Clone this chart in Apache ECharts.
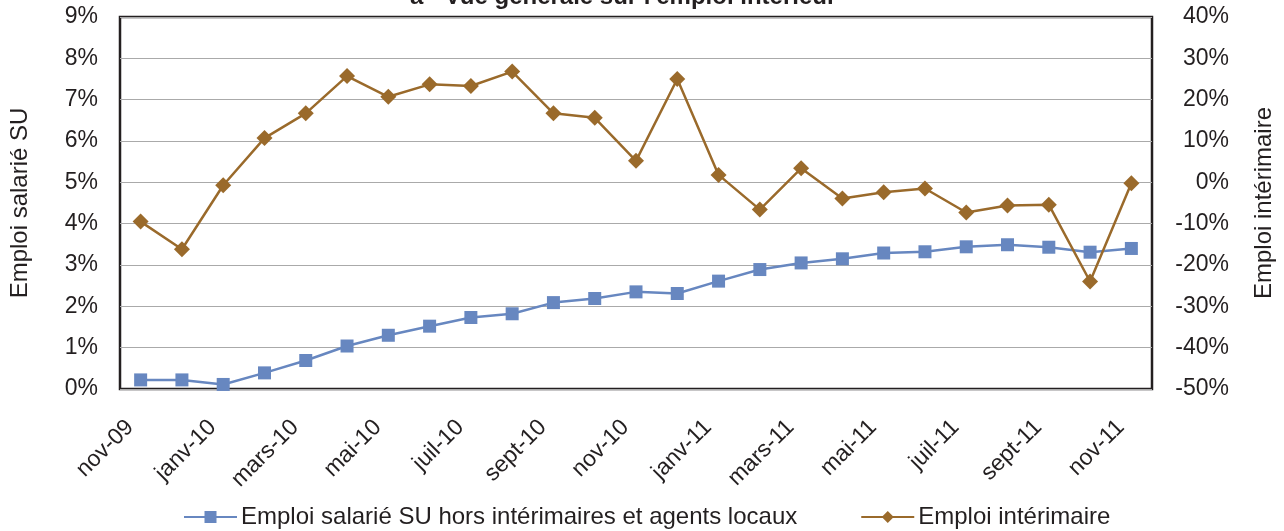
<!DOCTYPE html>
<html><head><meta charset="utf-8">
<script src="https://cdn.jsdelivr.net/npm/echarts@6/dist/echarts.min.js"></script>
<style>html,body{margin:0;padding:0;background:#fff}#c{width:1284px;height:531px}</style>
</head><body><div id="c"></div>
<script>
const categories = ["nov-09","déc-09","janv-10","févr-10","mars-10","avr-10","mai-10","juin-10","juil-10","août-10","sept-10","oct-10","nov-10","déc-10","janv-11","févr-11","mars-11","avr-11","mai-11","juin-11","juil-11","août-11","sept-11","oct-11","nov-11"];
const emploiSU = [0.22,0.22,0.11,0.39,0.69,1.04,1.30,1.52,1.73,1.82,2.09,2.19,2.35,2.31,2.61,2.89,3.05,3.15,3.29,3.32,3.44,3.49,3.43,3.31,3.40];
const emploiInterim = [-9.5,-16.2,-0.7,10.7,16.7,25.7,20.7,23.7,23.3,26.8,16.7,15.6,5.2,25.0,1.8,-6.6,3.4,-3.9,-2.4,-1.5,-7.3,-5.6,-5.4,-24.0,-0.2];
const seriesNames = ["Emploi salarié SU hors intérimaires et agents locaux","Emploi intérimaire"];
const titleText = "a - Vue générale sur l'emploi intérieur";
const leftName = "Emploi salarié SU";
const rightName = "Emploi intérimaire";

const blue = '#6787C0', brown = '#9A6A2B', txt = '#231f20';
const font = 'Liberation Sans, Arial, sans-serif';
const chart = echarts.init(document.getElementById('c'));
chart.setOption({
  backgroundColor: '#fff',
  animation: false,
  title: { text: titleText, left: 410, top: -15, padding: 0, textStyle: { fontFamily: font, fontSize: 24, fontWeight: 'bold', color: txt } },
  legend: {
    left: 178, top: 500, itemWidth: 53, itemHeight: 15, itemGap: 63,
    textStyle: { fontFamily: font, fontSize: 24, color: txt, padding: [0,0,0,-1] },
    data: seriesNames
  },
  grid: { left: 117, right: 130, top: 17, bottom: 142, show: true, borderColor: '#231f20', borderWidth: 2.5, containLabel: false },
  xAxis: {
    type: 'category', data: categories, boundaryGap: true,
    axisLine: { show: false }, axisTick: { show: false },
    axisLabel: { interval: 1, rotate: 45, margin: 24, padding: [0, 15, 0, 0], fontFamily: font, fontSize: 23, color: txt }
  },
  yAxis: [
    { type: 'value', min: 0, max: 9, interval: 1, position: 'left',
      name: leftName, nameLocation: 'middle', nameGap: 88,
      nameTextStyle: { fontFamily: font, fontSize: 24, color: txt },
      axisLine: { show: false }, axisTick: { show: false },
      axisLabel: { margin: 22, fontFamily: font, fontSize: 23, color: txt, formatter: v => v + '%' },
      splitLine: { lineStyle: { color: '#aaaaaa', width: 1 } } },
    { type: 'value', min: -50, max: 40, interval: 10, position: 'right',
      name: rightName, nameLocation: 'middle', nameGap: 100,
      nameTextStyle: { fontFamily: font, fontSize: 24, color: txt },
      axisLine: { show: false }, axisTick: { show: false },
      axisLabel: { margin: 77, align: 'right', fontFamily: font, fontSize: 23, color: txt, formatter: v => v + '%' },
      splitLine: { show: false } }
  ],
  series: [
    { name: seriesNames[0], type: 'line', yAxisIndex: 0, data: emploiSU,
      symbol: 'rect', symbolSize: 13, lineStyle: { color: blue, width: 2.5 }, itemStyle: { color: blue } },
    { name: seriesNames[1], type: 'line', yAxisIndex: 1, data: emploiInterim,
      symbol: 'diamond', symbolSize: 16, lineStyle: { color: brown, width: 2.5 }, itemStyle: { color: brown } }
  ]
});
</script></body></html>
